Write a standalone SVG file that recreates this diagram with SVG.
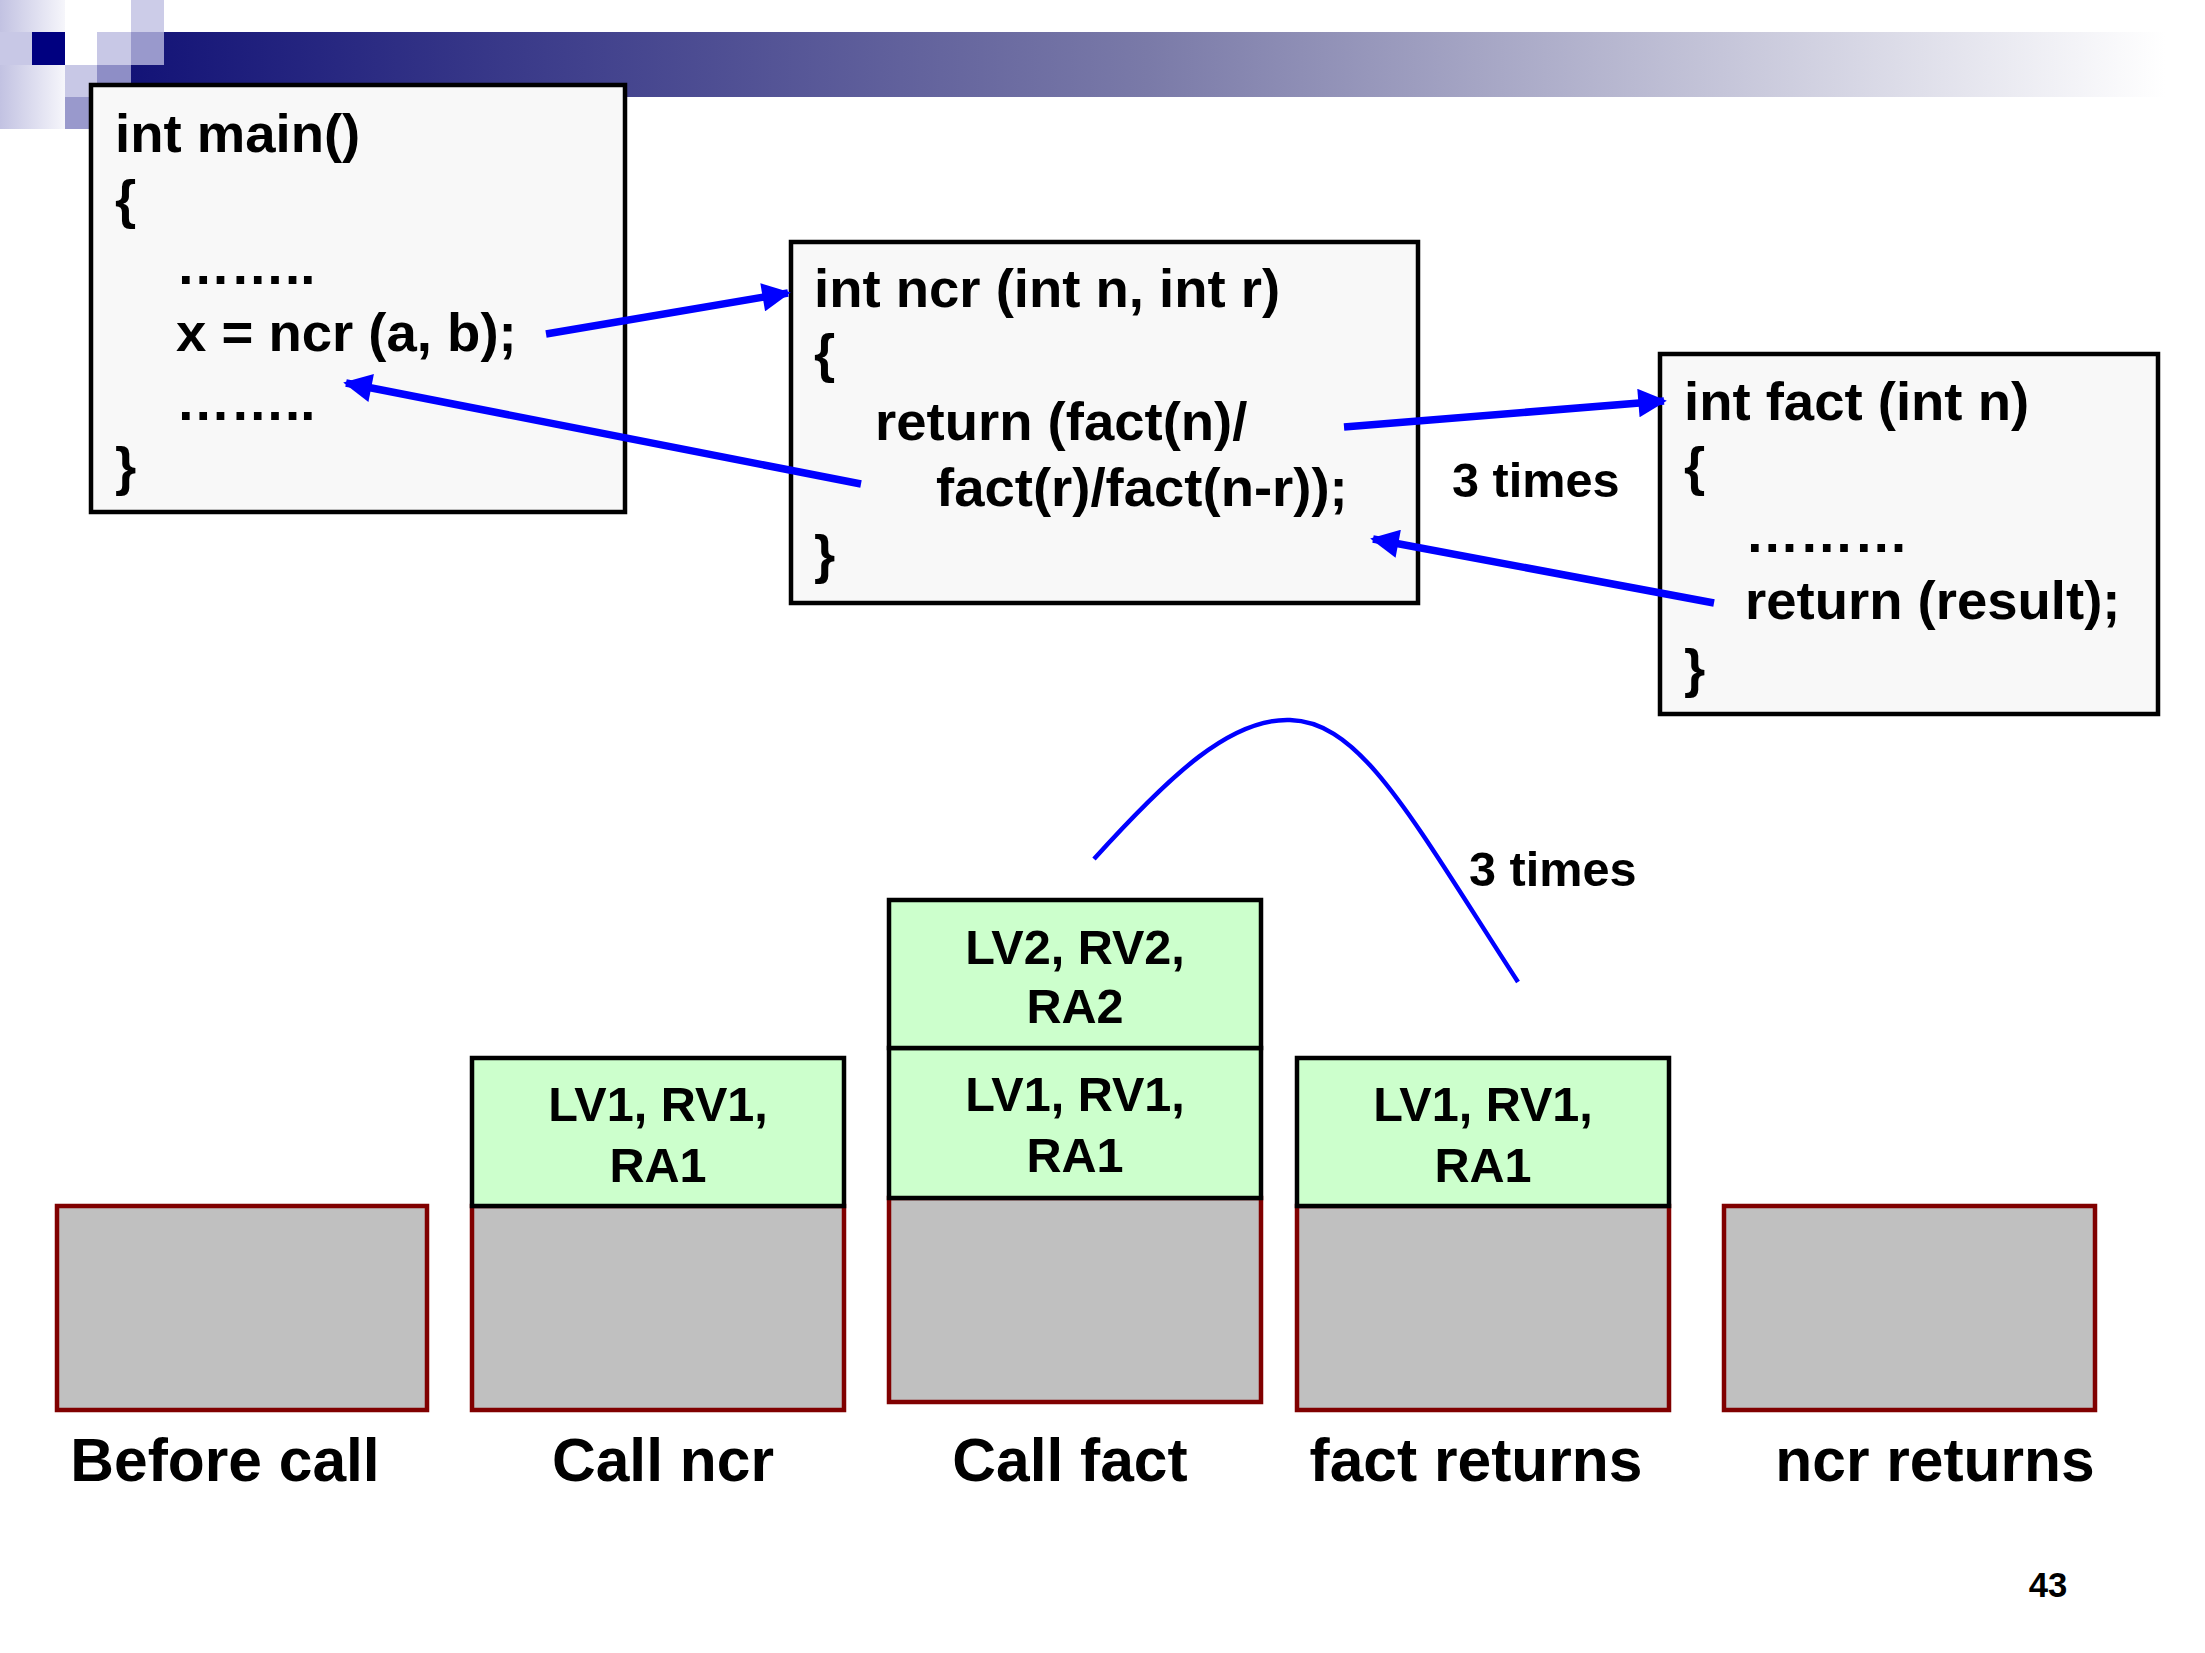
<svg xmlns="http://www.w3.org/2000/svg" width="2205" height="1653" viewBox="0 0 2205 1653">
<defs>
<linearGradient id="bar" x1="0" y1="0" x2="1" y2="0">
<stop offset="0" stop-color="#131377"/>
<stop offset="0.5" stop-color="#7a7aa8"/>
<stop offset="1" stop-color="#ffffff"/>
</linearGradient>
<linearGradient id="pale" x1="0" y1="0" x2="1" y2="0">
<stop offset="0" stop-color="#c2c2e2"/>
<stop offset="1" stop-color="#f6f6fb"/>
</linearGradient>
<marker id="ah" viewBox="0 0 10 10" refX="9" refY="5" markerWidth="4" markerHeight="3.8" orient="auto" markerUnits="strokeWidth">
<path d="M0,0 L10,5 L0,10 z" fill="#0000ff"/>
</marker>
<style>
.code{font-family:"Liberation Sans",Arial,sans-serif;font-weight:bold;font-size:54.5px;fill:#000}
.lbl{font-family:"Liberation Sans",Arial,sans-serif;font-weight:bold;font-size:48.6px;fill:#000}
.cap{font-family:"Liberation Sans",Arial,sans-serif;font-weight:bold;font-size:60.5px;fill:#000;text-anchor:middle}
.frame{font-family:"Liberation Sans",Arial,sans-serif;font-weight:bold;font-size:48.6px;fill:#000;text-anchor:middle}
.box{fill:#f8f8f8;stroke:#000;stroke-width:4.5}
.grn{fill:#ccffcc;stroke:#000;stroke-width:4.5}
.gry{fill:#c0c0c0;stroke:#800000;stroke-width:4.5}
.arr{stroke:#0000ff;stroke-width:7.5;fill:none;marker-end:url(#ah)}
</style>
</defs>
<rect width="2205" height="1653" fill="#ffffff"/>
<g id="header">
<rect x="131" y="32" width="2034" height="65" fill="url(#bar)"/>
<rect x="0" y="0" width="65" height="32" fill="url(#pale)"/>
<rect x="0" y="32" width="32" height="33" fill="#c8c8e6"/>
<rect x="0" y="65" width="65" height="64" fill="url(#pale)"/>
<rect x="32" y="32" width="33" height="33" fill="#000080"/>
<rect x="65" y="32" width="32" height="33" fill="#ffffff"/>
<rect x="97" y="32" width="34" height="33" fill="#c8c8e6"/>
<rect x="131" y="0" width="33" height="32" fill="#cccce8"/>
<rect x="131" y="32" width="33" height="33" fill="#9999cc"/>
<rect x="65" y="65" width="32" height="32" fill="#c8c8e6"/>
<rect x="97" y="65" width="34" height="32" fill="#8e8ec6"/>
<rect x="65" y="97" width="32" height="32" fill="#9999cc"/>
</g>
<g id="main">
<rect class="box" x="91" y="85" width="534" height="427"/>
<text class="code" x="115" y="152">int main()</text>
<text class="code" x="115" y="218">{</text>
<text class="code" x="176" y="284">……..</text>
<text class="code" x="176" y="351">x = ncr (a, b);</text>
<text class="code" x="176" y="420">……..</text>
<text class="code" x="115" y="485">}</text>
</g>
<g id="ncr">
<rect class="box" x="791" y="242" width="627" height="361"/>
<text class="code" x="814" y="307">int ncr (int n, int r)</text>
<text class="code" x="814" y="372">{</text>
<text class="code" x="875" y="440">return (fact(n)/</text>
<text class="code" x="936" y="506">fact(r)/fact(n-r));</text>
<text class="code" x="814" y="573">}</text>
</g>
<g id="fact">
<rect class="box" x="1660" y="354" width="498" height="360"/>
<text class="code" x="1684" y="420">int fact (int n)</text>
<text class="code" x="1684" y="485">{</text>
<text class="code" x="1745" y="552">………</text>
<text class="code" x="1745" y="619">return (result);</text>
<text class="code" x="1684" y="687">}</text>
</g>
<g id="connectors">
<line class="arr" x1="546" y1="334" x2="788" y2="293"/>
<line class="arr" x1="861" y1="484" x2="346" y2="383"/>
<line class="arr" x1="1344" y1="427" x2="1664" y2="401"/>
<line class="arr" x1="1714" y1="603" x2="1373" y2="539"/>
<path d="M1094,859 C1171,774 1231,718 1290,720 C1361,722 1409,814 1518,982" fill="none" stroke="#0000ff" stroke-width="4.5"/>
</g>
<g id="labels">
<text class="lbl" x="1452" y="497">3 times</text>
<text class="lbl" x="1469" y="886">3 times</text>
</g>
<g id="stack-before">
<rect class="gry" x="57" y="1206" width="370" height="204"/>
<text class="cap" x="225" y="1481">Before call</text>
</g>
<g id="stack-callncr">
<rect class="gry" x="472" y="1206" width="372" height="204"/>
<rect class="grn" x="472" y="1058" width="372" height="148"/>
<text class="frame" x="658" y="1121">LV1, RV1,</text>
<text class="frame" x="658" y="1182">RA1</text>
<text class="cap" x="663" y="1481">Call ncr</text>
</g>
<g id="stack-callfact">
<rect class="gry" x="889" y="1198" width="372" height="204"/>
<rect class="grn" x="889" y="1048" width="372" height="150"/>
<rect class="grn" x="889" y="900" width="372" height="148"/>
<text class="frame" x="1075" y="964">LV2, RV2,</text>
<text class="frame" x="1075" y="1023">RA2</text>
<text class="frame" x="1075" y="1111">LV1, RV1,</text>
<text class="frame" x="1075" y="1172">RA1</text>
<text class="cap" x="1070" y="1481">Call fact</text>
</g>
<g id="stack-factret">
<rect class="gry" x="1297" y="1206" width="372" height="204"/>
<rect class="grn" x="1297" y="1058" width="372" height="148"/>
<text class="frame" x="1483" y="1121">LV1, RV1,</text>
<text class="frame" x="1483" y="1182">RA1</text>
<text class="cap" x="1476" y="1481">fact returns</text>
</g>
<g id="stack-ncrret">
<rect class="gry" x="1724" y="1206" width="371" height="204"/>
<text class="cap" x="1935" y="1481">ncr returns</text>
</g>
<text x="2048" y="1597" font-family="Liberation Sans, Arial, sans-serif" font-weight="bold" font-size="34.7" text-anchor="middle">43</text>
</svg>
